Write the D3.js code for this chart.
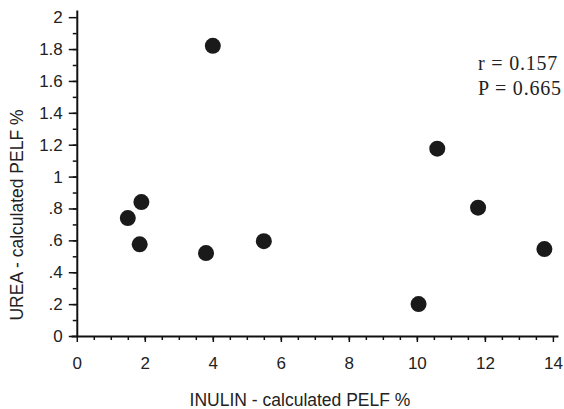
<!DOCTYPE html>
<html lang="en">
	<head>
		<meta charset="utf-8">
		<title>UREA vs INULIN calculated PELF</title>
		<script type="text/javascript" src="https://cdn.jsdelivr.net/npm/d3@7"></script>
		<style type="text/css">
			body {
				margin: 0;
				background: #fff;
			}

			.axis text {
				font-family: "Liberation Sans", Arial, Helvetica, sans-serif;
				font-size: 17px;
				fill: #222;
			}

			.axis path,
			.axis line {
				stroke: #111;
			}

			.axis path {
				stroke-width: 2px;
			}

			.axis line {
				stroke-width: 1.5px;
			}

			.title {
				font-family: "Liberation Sans", Arial, Helvetica, sans-serif;
				font-size: 17.5px;
				fill: #222;
				text-anchor: middle;
			}

			.stat {
				font-family: "Liberation Serif", "Times New Roman", serif;
				font-size: 20px;
				letter-spacing: 0.8px;
				fill: #222;
			}

			.dot {
				fill: #1a1a1a;
			}
		</style>
	</head>
	<body>
		<script type="text/javascript">

			//Settings
			var w = 564
			var h = 409

			//Data
			var inulin = [4.0, 1.5, 1.9, 1.85, 3.8, 5.5, 10.05, 10.6, 11.8, 13.75]
			var urea = [1.82, 0.74, 0.84, 0.575, 0.52, 0.595, 0.2, 1.175, 0.805, 0.545]

			var xTicks = [0, 2, 4, 6, 8, 10, 12, 14]
			var yTicks = [0, 0.2, 0.4, 0.6, 0.8, 1, 1.2, 1.4, 1.6, 1.8, 2]
			var xMinor = d3.range(0.5, 14, 0.5)
			var yMinor = d3.range(0.1, 2, 0.1)

			var statLines = ["r = 0.157", "P = 0.665"]

			var xTitle = "INULIN - calculated PELF %"
			var yTitle = "UREA - calculated PELF %"

			//Scales (axis lines run a bit past the last tick, as in the original)
			var x = d3.scaleLinear().domain([-0.17, 14.15]).range([71, 558])
			var y = d3.scaleLinear().domain([0, 2.045]).range([336, 10])

			var svg = d3.select("body")
				.append("svg")
				.attr("width", w)
				.attr("height", h)

			//minor ticks first
			svg.append("g")
				.attr("class", "axis")
				.attr("transform", "translate(0," + y(0) + ")")
				.call(d3.axisBottom(x).tickValues(xMinor).tickSize(4).tickFormat(""))
				.select(".domain").remove()

			svg.append("g")
				.attr("class", "axis")
				.attr("transform", "translate(" + x(0) + ",0)")
				.call(d3.axisLeft(y).tickValues(yMinor).tickSize(4).tickFormat(""))
				.select(".domain").remove()

			//main axes
			svg.append("g")
				.attr("class", "axis")
				.attr("transform", "translate(0," + y(0) + ")")
				.call(d3.axisBottom(x)
					.tickValues(xTicks)
					.tickSize(6)
					.tickSizeOuter(0)
					.tickPadding(15)
					.tickFormat(d3.format("d")))

			svg.append("g")
				.attr("class", "axis")
				.attr("transform", "translate(" + x(0) + ",0)")
				.call(d3.axisLeft(y)
					.tickValues(yTicks)
					.tickSize(8)
					.tickSizeOuter(0)
					.tickPadding(6)
					.tickFormat(function(d) {
						var s = d3.format("~g")(d)
						return s.replace(/^0\./, ".")
					}))

			//axis titles
			svg.append("text")
				.attr("class", "title")
				.attr("x", 300)
				.attr("y", 406)
				.text(xTitle)

			svg.append("text")
				.attr("class", "title")
				.attr("transform", "translate(23,215) rotate(-90)")
				.text(yTitle)

			//points
			svg.selectAll("circle")
				.data(d3.zip(inulin, urea))
				.enter()
				.append("circle")
				.attr("class", "dot")
				.attr("cx", function(d) { return x(d[0]) })
				.attr("cy", function(d) { return y(d[1]) })
				.attr("r", 8)

			//statistics
			svg.selectAll(".stat")
				.data(statLines)
				.enter()
				.append("text")
				.attr("class", "stat")
				.attr("x", 478)
				.attr("y", function(d, i) { return 70 + i * 25 })
				.text(function(d) { return d })

		</script>
	</body>
</html>
